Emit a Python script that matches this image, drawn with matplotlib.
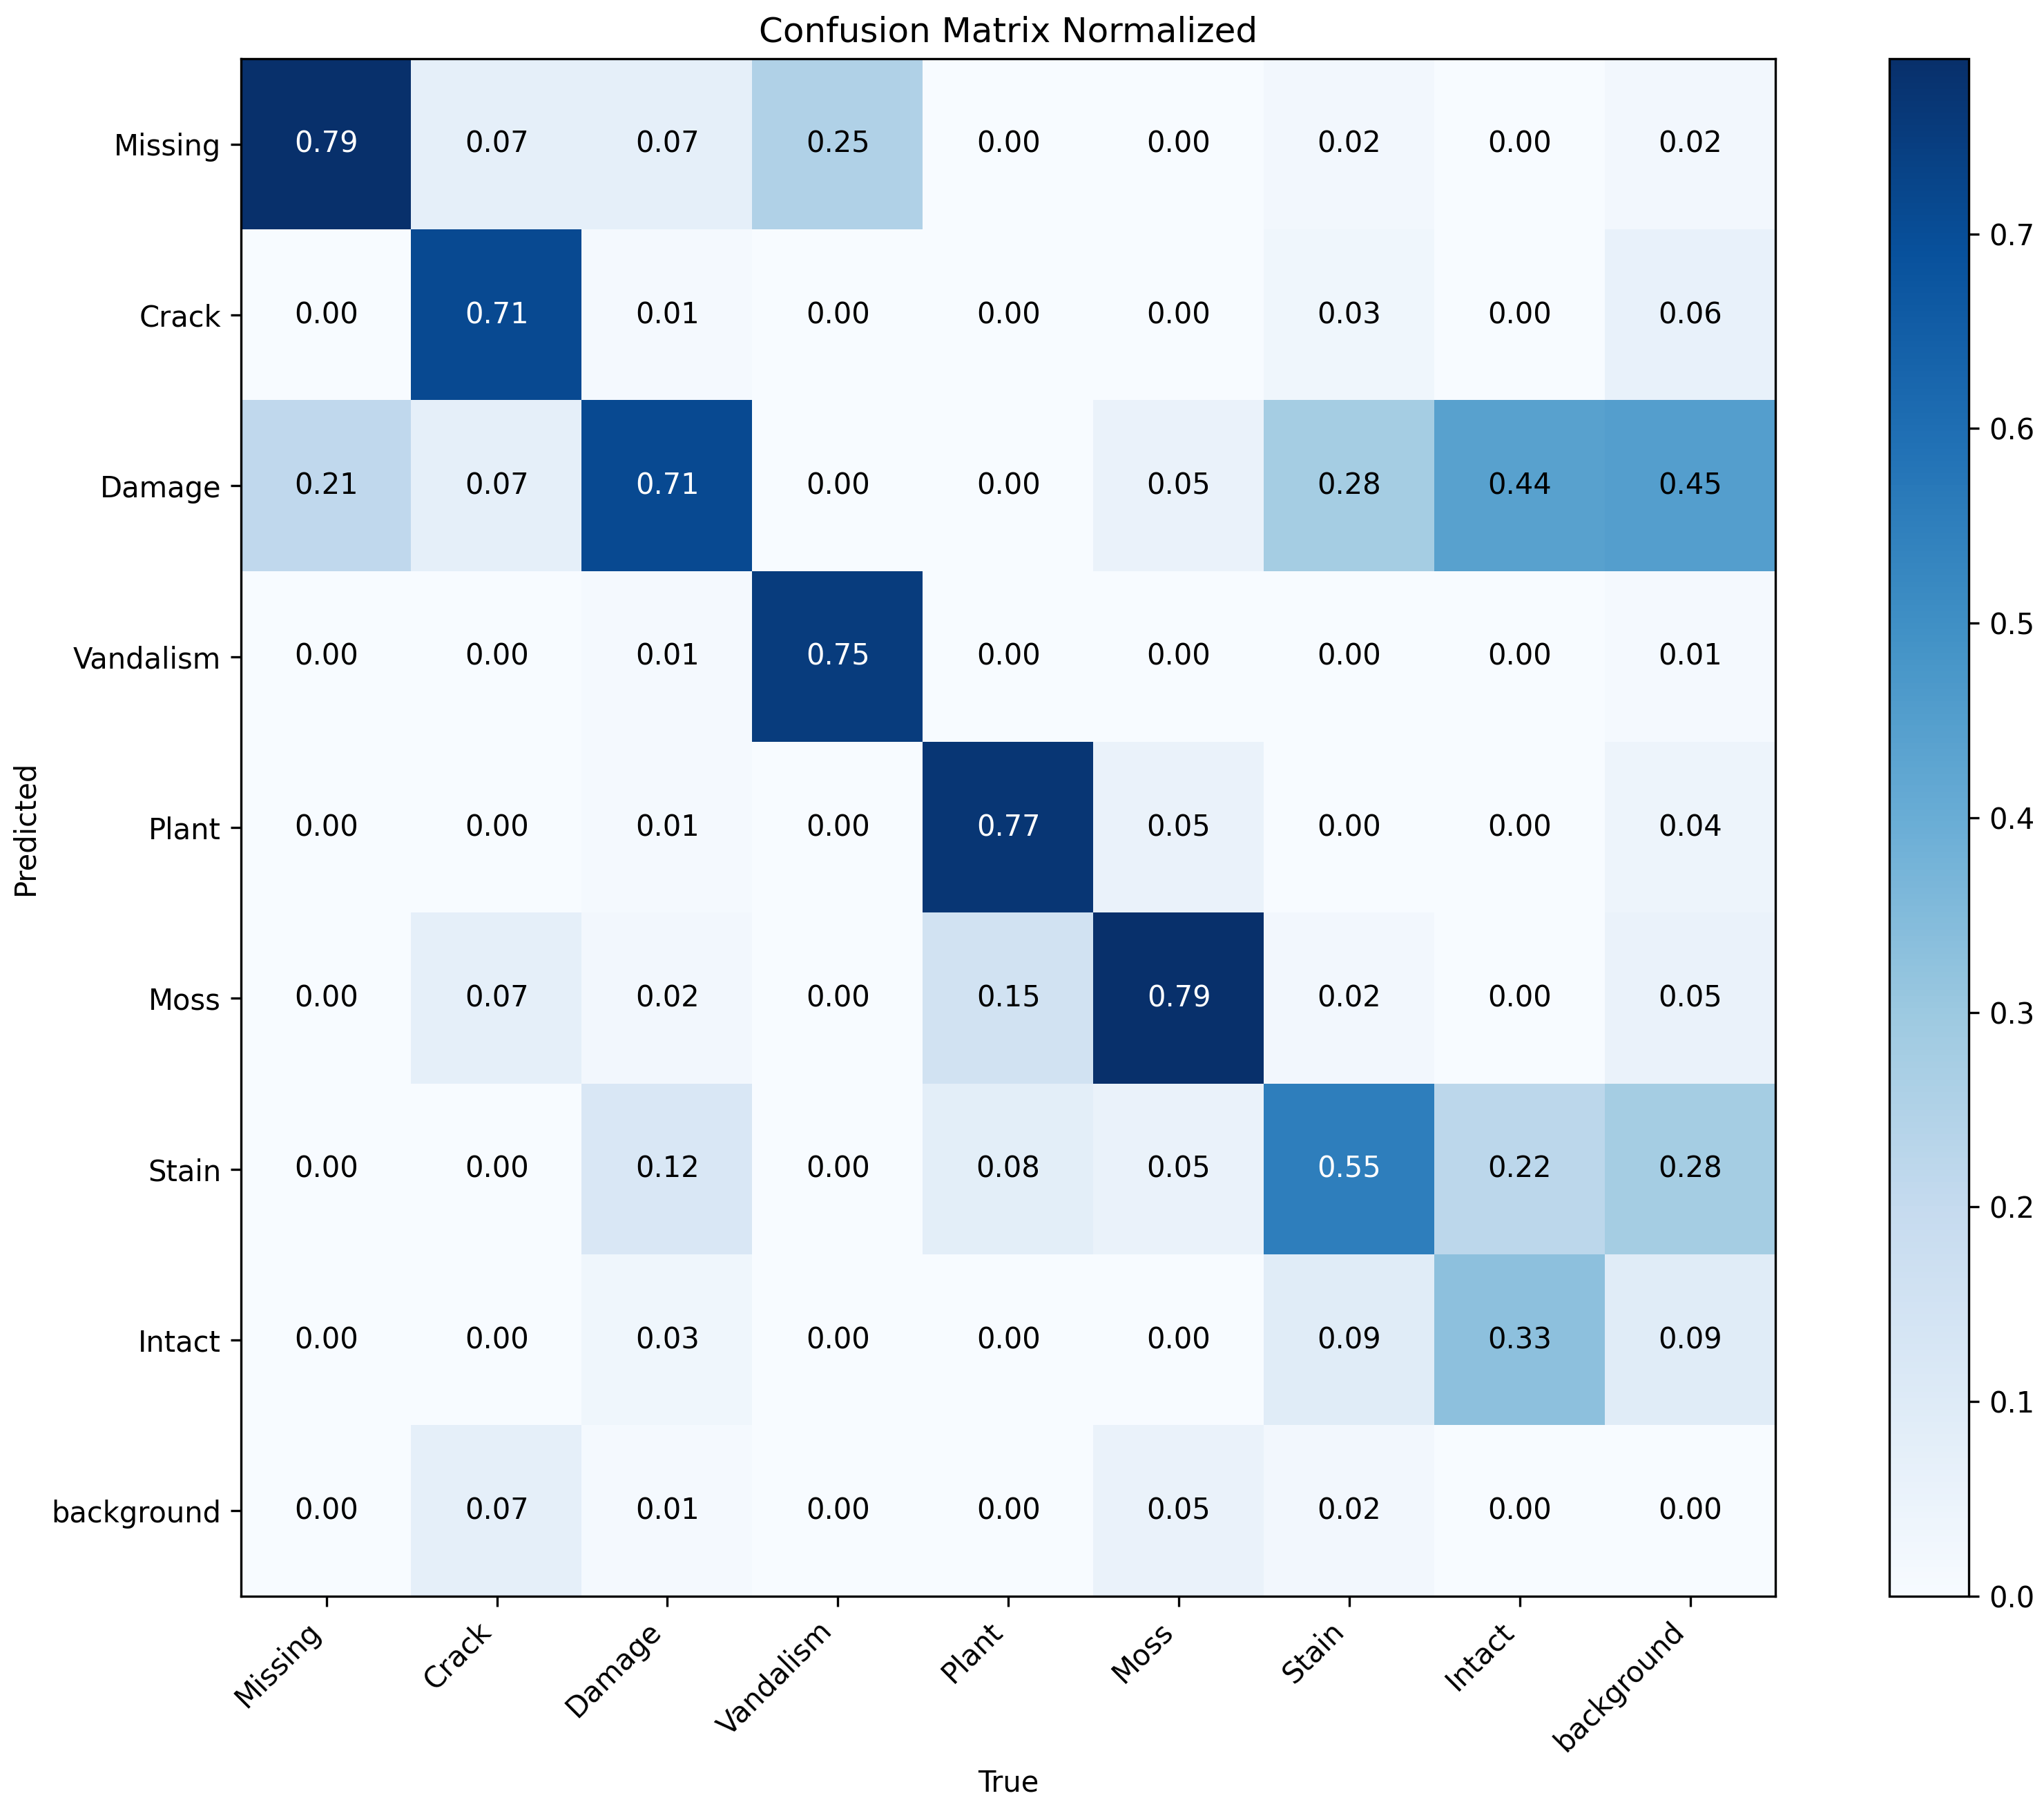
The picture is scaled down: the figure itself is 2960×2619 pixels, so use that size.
import numpy as np
import matplotlib
matplotlib.use("Agg")
import matplotlib.pyplot as plt

# class names (rows = predicted, columns = true)
classes = ["Missing", "Crack", "Damage", "Vandalism", "Plant",
           "Moss", "Stain", "Intact", "background"]

row_missing    = [0.79, 0.07, 0.07, 0.25, 0.00, 0.00, 0.02, 0.00, 0.02]
row_crack      = [0.00, 0.71, 0.01, 0.00, 0.00, 0.00, 0.03, 0.00, 0.06]
row_damage     = [0.21, 0.07, 0.71, 0.00, 0.00, 0.05, 0.28, 0.44, 0.45]
row_vandalism  = [0.00, 0.00, 0.01, 0.75, 0.00, 0.00, 0.00, 0.00, 0.01]
row_plant      = [0.00, 0.00, 0.01, 0.00, 0.77, 0.05, 0.00, 0.00, 0.04]
row_moss       = [0.00, 0.07, 0.02, 0.00, 0.15, 0.79, 0.02, 0.00, 0.05]
row_stain      = [0.00, 0.00, 0.12, 0.00, 0.08, 0.05, 0.55, 0.22, 0.28]
row_intact     = [0.00, 0.00, 0.03, 0.00, 0.00, 0.00, 0.09, 0.33, 0.09]
row_background = [0.00, 0.07, 0.01, 0.00, 0.00, 0.05, 0.02, 0.00, 0.00]

cm = np.array([row_missing, row_crack, row_damage, row_vandalism, row_plant,
               row_moss, row_stain, row_intact, row_background])

fig = plt.figure(figsize=(2960 / 300, 2619 / 300), dpi=300)
ax = fig.add_axes([0.118, 0.1176, 0.7506, 0.8499])
cax = fig.add_axes([0.9243, 0.1176, 0.0389, 0.8499])

im = ax.imshow(cm, interpolation="nearest", cmap=plt.cm.Blues, aspect="auto")
ax.set_title("Confusion Matrix Normalized")
fig.colorbar(im, cax=cax)

ticks = np.arange(len(classes))
ax.set_xticks(ticks)
ax.set_xticklabels(classes, rotation=45, ha="right")
ax.set_yticks(ticks)
ax.set_yticklabels(classes)

thresh = 0.5
for i in range(cm.shape[0]):
    for j in range(cm.shape[1]):
        ax.text(j, i, format(cm[i, j], ".2f"),
                ha="center", va="center",
                color="white" if cm[i, j] > thresh else "black")

ax.set_ylabel("Predicted")
ax.set_xlabel("True")

fig.savefig("out.png", dpi=300)
